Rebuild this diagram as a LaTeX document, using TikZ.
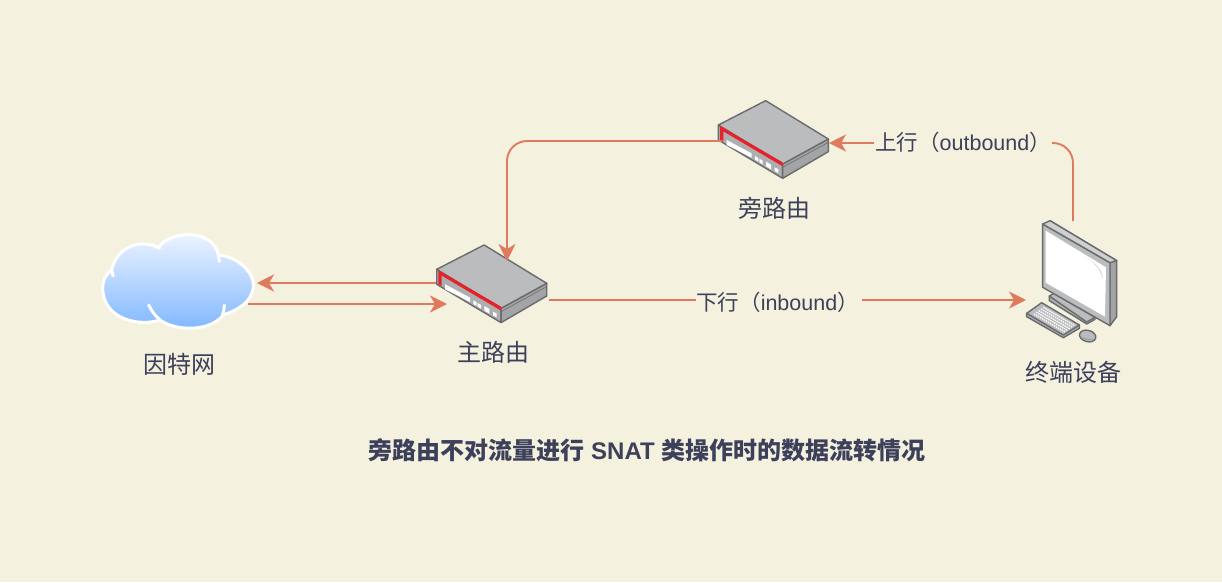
\documentclass[tikz,border=0pt]{standalone}
\usepackage{fontspec}
\setmainfont{Liberation Sans}
\newfontfamily\cjk{Noto Sans CJK SC}
\usetikzlibrary{arrows.meta}
\definecolor{bgc}{HTML}{F4F1DE}
\definecolor{linec}{HTML}{E07A5F}
\definecolor{textc}{HTML}{3D405B}
\definecolor{rtop}{HTML}{BBBCBE}
\definecolor{rfront}{HTML}{ADAEB0}
\definecolor{rside}{HTML}{A3A4A6}
\definecolor{edgec}{HTML}{6A6B6D}
\definecolor{redc}{HTML}{E8202A}
\definecolor{cloudtop}{HTML}{F2F7FF}
\definecolor{cloudbot}{HTML}{7EB6FF}
\tikzset{
  lbl/.style={text=textc,font=\cjk\fontsize{24}{28}\selectfont,inner sep=0pt},
  wirelbl/.style={text=textc,font=\fontsize{21.5}{26}\selectfont,inner sep=0pt},
  flow/.style={draw=linec,line width=1.9pt,rounded corners=20pt,-{Stealth[length=17pt,width=17pt,inset=5pt]}},
  flowplain/.style={draw=linec,line width=1.9pt,rounded corners=20pt},
  edgeline/.style={draw=edgec,line width=1.4pt,line join=round},
  thinedge/.style={draw=edgec,line width=.6pt,line join=round},
  cloudline/.style={draw=white,line width=3pt},
}
\newcommand{\drawrouter}{%
  \path[edgeline,fill=rfront] (55,105) -- (55,150) -- (248,265) -- (248,222) -- cycle;
  \path[edgeline,fill=rside] (248,222) -- (385,147) -- (385,185) -- (248,265) -- cycle;
  \path[edgeline,fill=rtop] (55,105) -- (197,32) -- (385,147) -- (248,222) -- cycle;
  \fill[redc] (60,108) -- (248,217) -- (248,229) -- (70,124) -- (70,155) -- (60,150) -- cycle;
  \fill[white] (80,150) -- (155,190) -- (155,203) -- (80,165) -- cycle;
  \fill[white] (165,198) -- (175,204) -- (175,215) -- (165,209) -- cycle;
  \fill[white] (178,206) -- (188,212) -- (188,223) -- (178,217) -- cycle;
  \fill[white] (198,215) -- (213,224) -- (213,238) -- (198,229) -- cycle;
  \fill[white] (224,232) -- (235,238) -- (235,249) -- (224,243) -- cycle;
  \draw[thinedge] (248,232) -- (385,157);
}
\begin{document}
\begin{tikzpicture}[x=1pt,y=-1pt]
\fill[bgc] (0,0) rectangle (1222,582);
\useasboundingbox (0,0) rectangle (1222,582);

% cloud
\begin{scope}[shift={(90,225)},scale=1/3]
  \path[cloudline,top color=cloudtop,bottom color=cloudbot]
    (65,135) .. controls (80,65) and (150,40) .. (205,68)
    .. controls (240,15) and (370,10) .. (385,90)
    .. controls (450,95) and (495,150) .. (490,185)
    .. controls (485,235) and (440,255) .. (400,270)
    .. controls (360,320) and (260,320) .. (210,285)
    .. controls (150,305) and (40,285) .. (38,190)
    .. controls (38,165) and (50,145) .. (65,135) -- cycle;
  \draw[cloudline] (65,135) -- (70,155);
  \draw[cloudline] (185,58) -- (212,70);
  \draw[cloudline] (385,90) -- (388,112);
  \draw[cloudline] (175,238) .. controls (185,258) and (195,272) .. (210,285);
  \draw[cloudline] (403,238) .. controls (403,250) and (402,260) .. (396,272);
\end{scope}

% routers
\begin{scope}[shift={(700,90)},scale=1/3]\drawrouter\end{scope}
\begin{scope}[shift={(418.4,234.3)},scale=1/3]\drawrouter\end{scope}

% monitor
\begin{scope}[shift={(1010,210)},scale=1/3]
  % stand
  \path[edgeline,fill=rfront] (118,258) -- (118,272) -- (230,342) -- (255,328) -- (255,310) -- cycle;
  \path[edgeline,fill=rtop] (118,258) -- (132,250) -- (255,322) -- (230,336) -- cycle;
  % case
  \path[edgeline,fill=rside] (120,32) -- (320,152) -- (320,320) -- (300,347) -- (300,158) -- cycle;
  \path[edgeline,fill=rtop] (98,42) -- (300,158) -- (300,347) -- (98,232) -- cycle;
  \path[edgeline,fill=rtop!70!white] (98,42) -- (120,32) -- (320,152) -- (300,158) -- cycle;
  \fill[white] (107,62) -- (288,172) -- (285,320) -- (107,218) -- cycle;
  \fill[rtop!55!white] (225,138) .. controls (260,160) and (280,185) .. (278,208) .. controls (272,180) and (250,155) .. cycle;
  % keyboard
  \path[edgeline,fill=rfront] (50,310) -- (50,320) -- (160,383) -- (208,355) -- (208,345) -- cycle;
  \path[edgeline,fill=rtop] (50,310) -- (95,278) -- (208,345) -- (160,375) -- cycle;
  \foreach \r in {0,1,2,3,4} {
    \draw[white,line width=1.3pt,dash pattern=on 1.4pt off .9pt]
      ({72+\r*7},{312-\r*5}) -- ({165+\r*7},{366-\r*5});
  }
  % mouse
  \path[edgeline,fill=rtop,rotate around={-15:(233,378)}] (233,378) ellipse [x radius=25,y radius=17];
  \path[fill=rside,rotate around={-15:(233,378)}] (212,384) .. controls (225,396) and (245,392) .. (256,380) .. controls (245,386) and (225,388) .. (212,384) -- cycle;
\end{scope}

% anchors
\coordinate (r1left) at (722,141);
\coordinate (r1right) at (829,143);
\coordinate (r2top) at (507,261);
\coordinate (r2inA) at (436,283);
\coordinate (r2inB) at (447,304);
\coordinate (r2out) at (549,300);
\coordinate (cloudA) at (257,283);
\coordinate (cloudB) at (248,304);
\coordinate (pcin) at (1026,300);
\coordinate (pctop) at (1073,221);

% connectors
\draw[flow] (r1left) -| (r2top);
\draw[flow] (r2inA) -- (cloudA);
\draw[flow] (cloudB) -- (r2inB);

% wire labels
\node[wirelbl] (up) at (963,142.5) {{\cjk 上行（}outbound{\cjk ）}};
\node[wirelbl] (down) at (777.5,302) {{\cjk 下行（}inbound{\cjk ）}};
\coordinate (upwireend) at (1052,143);
\coordinate (upwirestart) at (874,143);
\coordinate (wireAend) at (696,300);
\coordinate (wireBstart) at (862,300);
\draw[flowplain] (pctop) |- (upwireend);
\draw[flow] (upwirestart) -- (r1right);
\draw[flowplain] (r2out) -- (wireAend);
\draw[flow] (wireBstart) -- (pcin);

\node[lbl] (n1) at (774.5,208) {旁路由};
\node[lbl] (n2) at (493,352) {主路由};
\node[lbl] (n3) at (179,364) {因特网};
\node[lbl] (n4) at (1073,372) {终端设备};
\node[text=textc,inner sep=0pt,font=\fontsize{24}{28}\selectfont\bfseries] (title) at (647,450) {{\cjk 旁路由不对流量进行} SNAT {\cjk 类操作时的数据流转情况}};
\end{tikzpicture}
\end{document}
